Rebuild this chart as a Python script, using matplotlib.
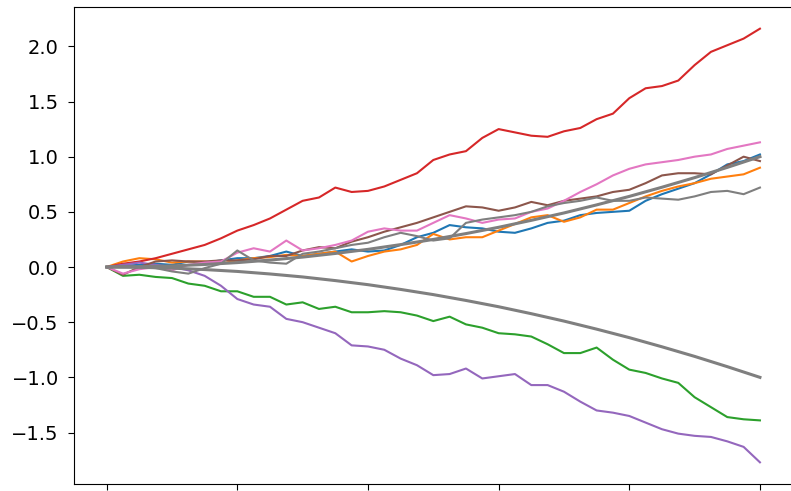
import numpy as np
import matplotlib
matplotlib.use("Agg")
import matplotlib.pyplot as plt

# common x grid (41 points from 0 to 1)
t = np.linspace(0, 1, 41)

blue = [0, 0.01, 0.02, 0.03, 0.02, 0.05, 0.04, 0.06, 0.08, 0.08,
        0.10, 0.14, 0.10, 0.12, 0.14, 0.16, 0.14, 0.15, 0.20, 0.27,
        0.31, 0.38, 0.36, 0.35, 0.32, 0.31, 0.35, 0.40, 0.42, 0.47,
        0.49, 0.50, 0.51, 0.60, 0.66, 0.71, 0.76, 0.84, 0.93, 0.96, 1.02]
orange = [0, 0.05, 0.08, 0.07, 0.04, 0.05, 0.05, 0.03, 0.06, 0.08,
          0.09, 0.11, 0.10, 0.12, 0.14, 0.05, 0.10, 0.14, 0.16, 0.20,
          0.30, 0.25, 0.27, 0.27, 0.33, 0.39, 0.45, 0.47, 0.41, 0.45,
          0.52, 0.52, 0.58, 0.64, 0.69, 0.73, 0.76, 0.80, 0.82, 0.84, 0.90]
green = [0, -0.08, -0.07, -0.09, -0.10, -0.15, -0.17, -0.22, -0.22, -0.27,
         -0.27, -0.34, -0.32, -0.38, -0.36, -0.41, -0.41, -0.40, -0.41, -0.44,
         -0.49, -0.45, -0.52, -0.55, -0.60, -0.61, -0.63, -0.70, -0.78, -0.78,
         -0.73, -0.84, -0.93, -0.96, -1.01, -1.05, -1.18, -1.27, -1.36, -1.38, -1.39]
red = [0, 0.03, 0.05, 0.08, 0.12, 0.16, 0.20, 0.26, 0.33, 0.38,
       0.44, 0.52, 0.60, 0.63, 0.72, 0.68, 0.69, 0.73, 0.79, 0.85,
       0.97, 1.02, 1.05, 1.17, 1.25, 1.22, 1.19, 1.18, 1.23, 1.26,
       1.34, 1.39, 1.53, 1.62, 1.64, 1.69, 1.83, 1.95, 2.01, 2.07, 2.16]
purple = [0, 0.02, 0.04, 0.02, 0.00, -0.03, -0.08, -0.17, -0.29, -0.34,
          -0.36, -0.47, -0.50, -0.55, -0.60, -0.71, -0.72, -0.75, -0.83, -0.89,
          -0.98, -0.97, -0.92, -1.01, -0.99, -0.97, -1.07, -1.07, -1.13, -1.22,
          -1.30, -1.32, -1.35, -1.41, -1.47, -1.51, -1.53, -1.54, -1.58, -1.63, -1.77]
brown = [0, -0.07, 0.00, 0.05, 0.06, 0.05, 0.05, 0.06, 0.06, 0.07,
         0.10, 0.10, 0.15, 0.18, 0.17, 0.23, 0.27, 0.32, 0.36, 0.40,
         0.45, 0.50, 0.55, 0.54, 0.51, 0.54, 0.59, 0.56, 0.60, 0.62,
         0.64, 0.68, 0.70, 0.76, 0.83, 0.85, 0.85, 0.84, 0.92, 1.00, 0.96]
pink = [0, -0.06, -0.02, 0.00, -0.03, 0.02, 0.04, 0.05, 0.13, 0.17,
        0.14, 0.24, 0.15, 0.17, 0.20, 0.24, 0.32, 0.35, 0.33, 0.33,
        0.40, 0.47, 0.44, 0.40, 0.43, 0.44, 0.50, 0.53, 0.60, 0.68,
        0.75, 0.83, 0.89, 0.93, 0.95, 0.97, 1.00, 1.02, 1.07, 1.10, 1.13]
gray = [0, 0.01, 0.00, -0.01, -0.04, -0.06, -0.01, 0.03, 0.15, 0.06,
        0.04, 0.03, 0.12, 0.14, 0.17, 0.20, 0.22, 0.27, 0.31, 0.28,
        0.24, 0.26, 0.40, 0.43, 0.45, 0.47, 0.50, 0.55, 0.58, 0.60,
        0.63, 0.60, 0.60, 0.63, 0.62, 0.61, 0.64, 0.68, 0.69, 0.66, 0.72]

# smooth reference curves
t_smooth = np.linspace(0, 1, 21)
upper = [0, 0.003, 0.01, 0.023, 0.04, 0.063, 0.09, 0.123, 0.16, 0.203,
         0.25, 0.303, 0.36, 0.423, 0.49, 0.563, 0.64, 0.723, 0.81, 0.903, 1.0]
lower = [-v for v in upper]

fig = plt.figure(figsize=(7.91, 4.91), dpi=100)
ax = fig.add_axes([74 / 791, 7 / 491, 718.6 / 791, 477 / 491])

for vals, c in [(blue, 'tab:blue'), (orange, 'tab:orange'), (green, 'tab:green'),
                (red, 'tab:red'), (purple, 'tab:purple'), (brown, 'tab:brown'),
                (pink, 'tab:pink'), (gray, 'tab:gray')]:
    ax.plot(t, vals, color=c, lw=1.5)

ax.plot(t_smooth, upper, color='tab:gray', lw=2.2)
ax.plot(t_smooth, lower, color='tab:gray', lw=2.2)

ax.set_xticks([0, 0.2, 0.4, 0.6, 0.8, 1.0])
ax.set_xticklabels([])
ax.set_yticks([-1.5, -1.0, -0.5, 0.0, 0.5, 1.0, 1.5, 2.0])
ax.tick_params(axis='y', labelsize=14, pad=7, length=4)
ax.tick_params(axis='x', length=4)

fig.savefig("out.png", dpi=100)
